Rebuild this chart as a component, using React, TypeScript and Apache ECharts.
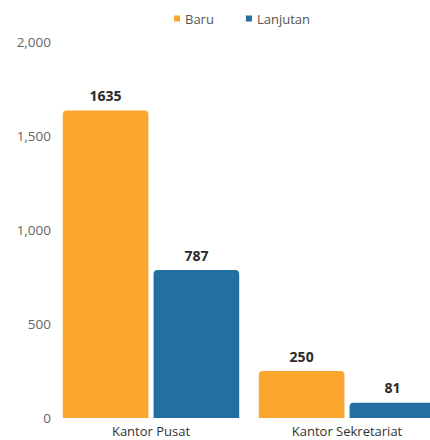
import React, { useEffect, useRef } from "react";
import * as echarts from "echarts";

const categories = ["Kantor Pusat", "Kantor Sekretariat"];
const baru = [1635, 250];
const lanjutan = [787, 81];
const yTicks = [0, 500, 1000, 1500, 2000];

export default function App() {
  const ref = useRef<HTMLDivElement>(null);
  useEffect(() => {
    document.body.style.margin = "0";
    const chart = echarts.init(ref.current!, null, { renderer: "svg" });
    const font = "'Open Sans', 'Noto Sans', sans-serif";
    const label = {
      show: true,
      position: "top",
      distance: 8,
      fontWeight: "bold",
      fontSize: 14,
      color: "#2a2a2a",
      fontFamily: font,
    };
    chart.setOption({
      animation: false,
      backgroundColor: "#ffffff",
      legend: {
        top: 7,
        left: 169,
        itemWidth: 6,
        itemHeight: 6,
        itemGap: 32,
        icon: "rect",
        textStyle: { fontSize: 13, color: "#555", fontFamily: font },
        data: ["Baru", "Lanjutan"],
      },
      grid: {
        left: 53,
        width: 392,
        top: 42,
        bottom: 22,
        containLabel: false,
        outerBoundsMode: "none",
      },
      xAxis: {
        type: "category",
        data: categories,
        axisLine: { show: false },
        axisTick: { show: false },
        axisLabel: {
          fontSize: 13,
          lineHeight: 14,
          color: "#333",
          margin: 6,
          fontFamily: font,
        },
      },
      yAxis: {
        type: "value",
        min: yTicks[0],
        max: yTicks[yTicks.length - 1],
        interval: 500,
        splitLine: { show: false },
        axisLine: { show: false },
        axisTick: { show: false },
        axisLabel: {
          fontSize: 13.5,
          color: "#666",
          margin: 2,
          fontFamily: font,
          formatter: (v: number) => v.toLocaleString("en-US"),
        },
      },
      series: [
        {
          name: "Baru",
          type: "bar",
          data: baru,
          barGap: "6%",
          barCategoryGap: "10%",
          itemStyle: { color: "#FBA62F", borderRadius: [4, 4, 0, 0] },
          label,
        },
        {
          name: "Lanjutan",
          type: "bar",
          data: lanjutan,
          itemStyle: { color: "#22709F", borderRadius: [4, 4, 0, 0] },
          label,
        },
      ],
    });
    return () => chart.dispose();
  }, []);
  return <div ref={ref} style={{ width: 430, height: 440 }} />;
}
